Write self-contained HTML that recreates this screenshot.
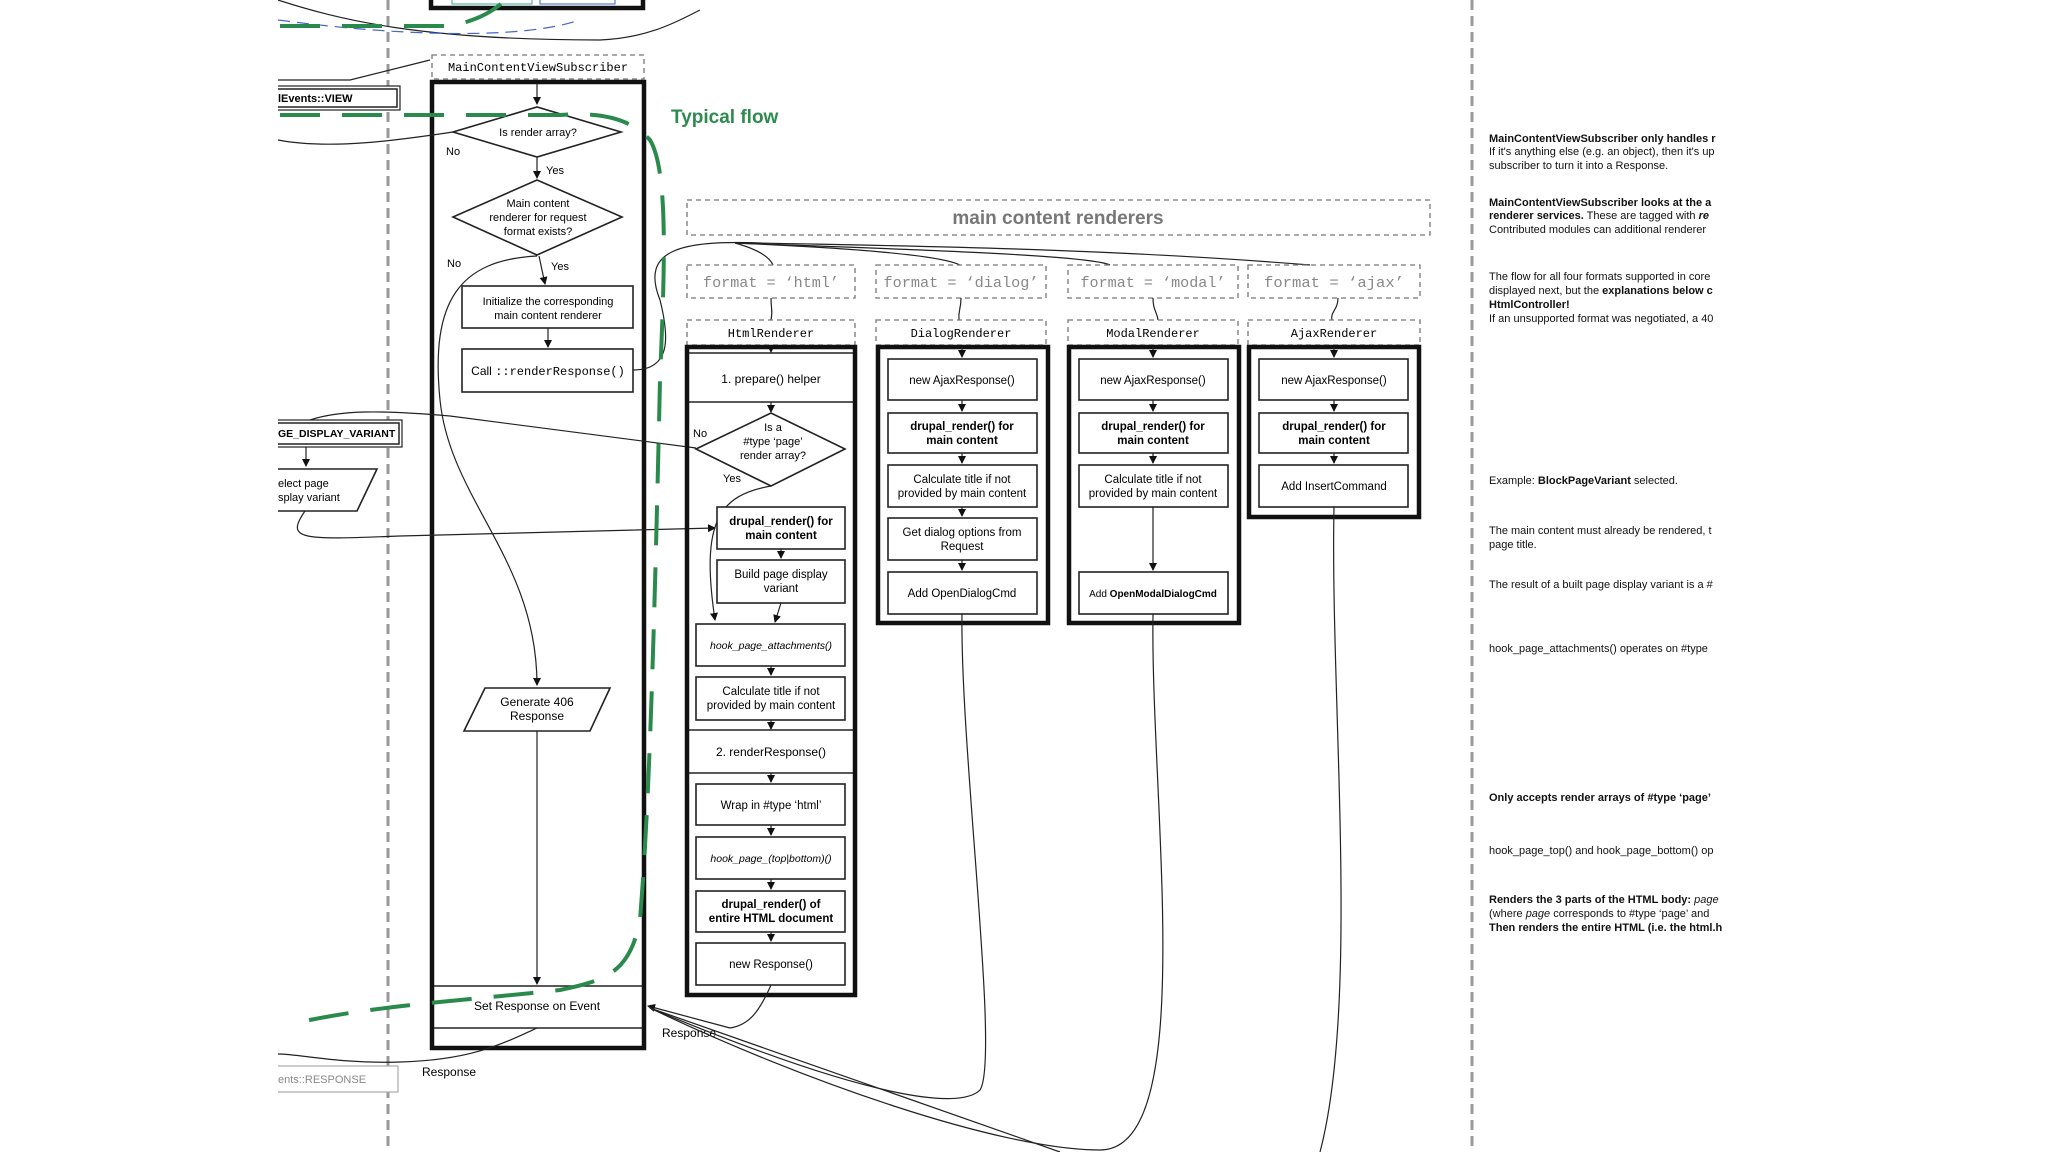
<!DOCTYPE html>
<html><head><meta charset="utf-8"><style>
html,body{margin:0;padding:0;background:#fff;}
svg{display:block;font-family:"Liberation Sans",sans-serif;font-size:12px;}
.m{font-family:"Liberation Mono",monospace;}
.b{fill:#fff;stroke:#222;stroke-width:1.6;}
.t{fill:none;stroke:#111;stroke-width:4.5;}
.d{fill:none;stroke:#777;stroke-width:1.3;stroke-dasharray:5 4;}
.c{fill:none;stroke:#222;stroke-width:1.2;}
</style></head><body>
<svg width="2048" height="1152" viewBox="0 0 2048 1152" xmlns="http://www.w3.org/2000/svg">
<defs><marker id="a" markerWidth="8" markerHeight="8" refX="7" refY="4" orient="auto" markerUnits="userSpaceOnUse"><path d="M0,0 L8,4 L0,8 z" fill="#111"/></marker></defs>

<line x1="388" y1="0" x2="388" y2="1152" stroke="#999" stroke-width="3" stroke-dasharray="10 6"/>
<line x1="1472" y1="0" x2="1472" y2="1152" stroke="#999" stroke-width="3" stroke-dasharray="10 6"/>

<rect x="431" y="-10" width="212" height="18" class="t"/>
<rect x="452" y="-5" width="80" height="9" fill="none" stroke="#3a9" stroke-width="1"/>
<rect x="540" y="-5" width="75" height="9" fill="none" stroke="#36c" stroke-width="1"/>
<path d="M278,0 C340,20 420,40 600,40 C650,38 680,20 700,10" class="c"/>
<path d="M278,20 C400,36 520,40 580,20" fill="none" stroke="#46c" stroke-width="1.2" stroke-dasharray="12 7"/>

<rect x="432" y="55" width="212" height="24" class="d"/>
<text x="538" y="71" class="m" text-anchor="middle" font-size="12">MainContentViewSubscriber</text>
<rect x="432" y="82" width="212" height="966" class="t"/>
<path d="M430,60 L350,80 L278,80" class="c"/>
<line x1="537" y1="84" x2="537" y2="104" class="c" marker-end="url(#a)"/>
<polygon points="453,132 537,107 621,132 537,157" class="b"/>
<text x="538" y="136" text-anchor="middle" font-size="11">Is render array?</text>
<text x="446" y="155" font-size="11">No</text>
<line x1="537" y1="157" x2="537" y2="178" class="c" marker-end="url(#a)"/>
<text x="546" y="174" font-size="11">Yes</text>
<polygon points="453,217 537,180 622,217 537,255" class="b"/>
<text x="538" y="207" text-anchor="middle" font-size="11">Main content</text>
<text x="538" y="221" text-anchor="middle" font-size="11">renderer for request</text>
<text x="538" y="235" text-anchor="middle" font-size="11">format exists?</text>
<text x="447" y="267" font-size="11">No</text>
<text x="551" y="270" font-size="11">Yes</text>
<line x1="539" y1="256" x2="545" y2="284" class="c" marker-end="url(#a)"/>
<rect x="462" y="286" width="171" height="42" class="b"/>
<text x="548" y="305" text-anchor="middle" font-size="11">Initialize the corresponding</text>
<text x="548" y="319" text-anchor="middle" font-size="11">main content renderer</text>
<line x1="548" y1="328" x2="548" y2="347" class="c" marker-end="url(#a)"/>
<rect x="462" y="349" width="171" height="43" class="b"/>
<text x="548" y="375" text-anchor="middle" font-size="12">Call <tspan class="m">::renderResponse()</tspan></text>
<path d="M537,256 C460,260 430,300 440,400 C450,500 537,560 537,685" class="c" marker-end="url(#a)"/>
<polygon points="485,688 610,688 590,731 464,731" class="b"/>
<text x="537" y="706" text-anchor="middle" font-size="12">Generate 406</text>
<text x="537" y="720" text-anchor="middle" font-size="12">Response</text>
<line x1="537" y1="731" x2="537" y2="984" class="c" marker-end="url(#a)"/>
<line x1="434" y1="986" x2="642" y2="986" stroke="#222" stroke-width="1.5"/>
<line x1="434" y1="1028" x2="642" y2="1028" stroke="#222" stroke-width="1.5"/>
<text x="537" y="1010" text-anchor="middle" font-size="12">Set Response on Event</text>
<path d="M537,1028 C500,1045 470,1060 400,1062 C340,1064 300,1054 278,1054" class="c"/>
<text x="422" y="1076" font-size="12">Response</text>
<text x="662" y="1037" font-size="12">Response</text>

<rect x="270" y="86" width="130" height="24" fill="#fff" stroke="#222" stroke-width="1.2"/>
<rect x="273" y="89" width="124" height="18" fill="none" stroke="#222" stroke-width="1.5"/>
<text x="278" y="102" font-size="11" font-weight="bold">lEvents::VIEW</text>
<path d="M278,140 C330,150 400,140 453,132" class="c"/>
<rect x="270" y="420" width="132" height="27" fill="#fff" stroke="#222" stroke-width="1.2"/>
<rect x="273" y="423" width="126" height="21" fill="none" stroke="#222" stroke-width="1.5"/>
<text x="278" y="437" font-size="10.5" font-weight="bold">GE_DISPLAY_VARIANT</text>
<line x1="306" y1="447" x2="306" y2="466" class="c" marker-end="url(#a)"/>
<polygon points="270,469 377,469 357,511 270,511" class="b"/>
<text x="278" y="487" font-size="11">elect page</text>
<text x="278" y="501" font-size="11">splay variant</text>
<path d="M310,420 C340,410 380,410 450,416 L696,448" class="c"/>
<path d="M305,511 C285,540 300,540 400,536 L715,528" class="c" marker-end="url(#a)"/>
<rect x="270" y="1066" width="128" height="26" fill="#fff" stroke="#aaa" stroke-width="1.2"/>
<text x="278" y="1083" font-size="11" fill="#888">ents::RESPONSE</text>

<text x="671" y="123" font-size="19" font-weight="bold" fill="#2e8b4f">Typical flow</text>

<rect x="687" y="200" width="743" height="35" class="d"/>
<text x="1058" y="224" text-anchor="middle" font-size="19" fill="#777" font-weight="bold">main content renderers</text>
<path d="M633,370 C670,370 670,340 660,300 C640,250 680,240 760,243 C900,246 1100,248 1310,265" class="c"/>
<path d="M735,243 C760,250 770,258 773,265" class="c"/>
<path d="M735,243 C850,248 940,255 960,265" class="c"/>
<path d="M735,243 C900,249 1090,255 1110,265" class="c"/>

<rect x="687" y="265" width="168" height="33" class="d"/><text x="771" y="287" text-anchor="middle" class="m" font-size="15" fill="#888" textLength="136" lengthAdjust="spacingAndGlyphs">format = ‘html’</text>
<rect x="876" y="265" width="170" height="33" class="d"/><text x="961" y="287" text-anchor="middle" class="m" font-size="15" fill="#888" textLength="155" lengthAdjust="spacingAndGlyphs">format = ‘dialog’</text>
<rect x="1068" y="265" width="170" height="33" class="d"/><text x="1153" y="287" text-anchor="middle" class="m" font-size="15" fill="#888" textLength="145" lengthAdjust="spacingAndGlyphs">format = ‘modal’</text>
<rect x="1248" y="265" width="172" height="33" class="d"/><text x="1334" y="287" text-anchor="middle" class="m" font-size="15" fill="#888" textLength="140" lengthAdjust="spacingAndGlyphs">format = ‘ajax’</text>
<path d="M771,298 C771,310 773,310 771,320" class="c"/>
<path d="M961,298 C961,310 958,310 959,320" class="c"/>
<path d="M1153,298 C1153,310 1157,312 1158,320" class="c"/>
<path d="M1338,298 C1338,310 1330,312 1332,320" class="c"/>

<rect x="687" y="320" width="168" height="25" class="d"/><text x="771" y="337" text-anchor="middle" class="m" font-size="12">HtmlRenderer</text>
<rect x="876" y="320" width="170" height="25" class="d"/><text x="961" y="337" text-anchor="middle" class="m" font-size="12">DialogRenderer</text>
<rect x="1068" y="320" width="170" height="25" class="d"/><text x="1153" y="337" text-anchor="middle" class="m" font-size="12">ModalRenderer</text>
<rect x="1248" y="320" width="172" height="25" class="d"/><text x="1334" y="337" text-anchor="middle" class="m" font-size="12">AjaxRenderer</text>

<rect x="687" y="347" width="168" height="648" class="t"/>
<line x1="689" y1="353" x2="853" y2="353" stroke="#222" stroke-width="1.5"/>
<line x1="689" y1="402" x2="853" y2="402" stroke="#222" stroke-width="1.5"/>
<text x="771" y="383" text-anchor="middle" font-size="12">1. prepare() helper</text>
<line x1="771" y1="402" x2="771" y2="412" class="c" marker-end="url(#a)"/>
<polygon points="696,449 771,413 845,449 771,486" class="b"/>
<text x="773" y="431" text-anchor="middle" font-size="11">Is a</text>
<text x="773" y="445" text-anchor="middle" font-size="11">#type ‘page’</text>
<text x="773" y="459" text-anchor="middle" font-size="11">render array?</text>
<text x="693" y="437" font-size="11">No</text>
<text x="723" y="482" font-size="11">Yes</text>
<path d="M771,486 C720,495 700,520 715,620" class="c" marker-end="url(#a)"/>
<rect x="717" y="507" width="128" height="42" class="b"/>
<text x="781" y="525" text-anchor="middle" font-size="11.5" font-weight="bold">drupal_render() for</text>
<text x="781" y="539" text-anchor="middle" font-size="11.5" font-weight="bold">main content</text>
<line x1="781" y1="549" x2="781" y2="558" class="c" marker-end="url(#a)"/>
<rect x="717" y="560" width="128" height="43" class="b"/>
<text x="781" y="578" text-anchor="middle" font-size="11.5">Build page display</text>
<text x="781" y="592" text-anchor="middle" font-size="11.5">variant</text>
<line x1="781" y1="603" x2="775" y2="622" class="c" marker-end="url(#a)"/>
<rect x="696" y="624" width="149" height="42" class="b"/>
<text x="771" y="649" text-anchor="middle" font-size="10.5" font-style="italic">hook_page_attachments()</text>
<line x1="771" y1="666" x2="771" y2="675" class="c" marker-end="url(#a)"/>
<rect x="696" y="677" width="149" height="43" class="b"/>
<text x="771" y="695" text-anchor="middle" font-size="11.5">Calculate title if not</text>
<text x="771" y="709" text-anchor="middle" font-size="11.5">provided by main content</text>
<line x1="771" y1="720" x2="771" y2="729" class="c" marker-end="url(#a)"/>
<line x1="689" y1="730" x2="853" y2="730" stroke="#222" stroke-width="1.5"/>
<line x1="689" y1="773" x2="853" y2="773" stroke="#222" stroke-width="1.5"/>
<text x="771" y="756" text-anchor="middle" font-size="12">2. renderResponse()</text>
<line x1="771" y1="773" x2="771" y2="782" class="c" marker-end="url(#a)"/>
<rect x="696" y="784" width="149" height="41" class="b"/>
<text x="771" y="809" text-anchor="middle" font-size="11.5">Wrap in #type ‘html’</text>
<line x1="771" y1="825" x2="771" y2="835" class="c" marker-end="url(#a)"/>
<rect x="696" y="837" width="149" height="42" class="b"/>
<text x="771" y="862" text-anchor="middle" font-size="10.5" font-style="italic">hook_page_(top|bottom)()</text>
<line x1="771" y1="879" x2="771" y2="889" class="c" marker-end="url(#a)"/>
<rect x="696" y="891" width="149" height="41" class="b"/>
<text x="771" y="908" text-anchor="middle" font-size="11.5" font-weight="bold">drupal_render() of</text>
<text x="771" y="922" text-anchor="middle" font-size="11.5" font-weight="bold">entire HTML document</text>
<line x1="771" y1="932" x2="771" y2="941" class="c" marker-end="url(#a)"/>
<rect x="696" y="943" width="149" height="42" class="b"/>
<text x="771" y="968" text-anchor="middle" font-size="11.5">new Response()</text>
<path d="M771,985 C760,1010 750,1025 730,1028" class="c"/>
<path d="M730,1028 L648,1006" class="c" marker-end="url(#a)"/>

<rect x="878" y="347" width="170" height="276" class="t"/>
<g font-size="11.5">
<rect x="888" y="359" width="149" height="41" class="b"/><text x="962" y="384" text-anchor="middle">new AjaxResponse()</text>
<rect x="888" y="413" width="149" height="40" class="b"/><text x="962" y="430" text-anchor="middle" font-weight="bold">drupal_render() for</text><text x="962" y="444" text-anchor="middle" font-weight="bold">main content</text>
<rect x="888" y="465" width="149" height="42" class="b"/><text x="962" y="483" text-anchor="middle">Calculate title if not</text><text x="962" y="497" text-anchor="middle">provided by main content</text>
<rect x="888" y="518" width="149" height="42" class="b"/><text x="962" y="536" text-anchor="middle">Get dialog options from</text><text x="962" y="550" text-anchor="middle">Request</text>
<rect x="888" y="572" width="149" height="42" class="b"/><text x="962" y="597" text-anchor="middle">Add OpenDialogCmd</text>
</g>
<rect x="1069" y="347" width="170" height="276" class="t"/>
<rect x="1079" y="359" width="149" height="41" class="b"/><text x="1153" y="384" text-anchor="middle" font-size="11.5">new AjaxResponse()</text>
<rect x="1079" y="413" width="149" height="40" class="b"/><text x="1153" y="430" text-anchor="middle" font-size="11.5" font-weight="bold">drupal_render() for</text><text x="1153" y="444" text-anchor="middle" font-size="11.5" font-weight="bold">main content</text>
<rect x="1079" y="465" width="149" height="42" class="b"/><text x="1153" y="483" text-anchor="middle" font-size="11.5">Calculate title if not</text><text x="1153" y="497" text-anchor="middle" font-size="11.5">provided by main content</text>
<line x1="1153" y1="507" x2="1153" y2="570" class="c" marker-end="url(#a)"/>
<rect x="1079" y="572" width="149" height="42" class="b"/><text x="1153" y="597" text-anchor="middle" font-size="10">Add <tspan font-weight="bold">OpenModalDialogCmd</tspan></text>
<rect x="1249" y="347" width="170" height="170" class="t"/>
<rect x="1259" y="359" width="149" height="41" class="b"/><text x="1334" y="384" text-anchor="middle" font-size="11.5">new AjaxResponse()</text>
<rect x="1259" y="413" width="149" height="40" class="b"/><text x="1334" y="430" text-anchor="middle" font-size="11.5" font-weight="bold">drupal_render() for</text><text x="1334" y="444" text-anchor="middle" font-size="11.5" font-weight="bold">main content</text>
<rect x="1259" y="465" width="149" height="42" class="b"/><text x="1334" y="490" text-anchor="middle" font-size="11.5">Add InsertCommand</text>

<g class="c">
<line x1="962" y1="347" x2="962" y2="357" marker-end="url(#a)"/><line x1="962" y1="400" x2="962" y2="411" marker-end="url(#a)"/><line x1="962" y1="453" x2="962" y2="463" marker-end="url(#a)"/><line x1="962" y1="507" x2="962" y2="516" marker-end="url(#a)"/><line x1="962" y1="560" x2="962" y2="570" marker-end="url(#a)"/>
<line x1="1153" y1="347" x2="1153" y2="357" marker-end="url(#a)"/><line x1="1153" y1="400" x2="1153" y2="411" marker-end="url(#a)"/><line x1="1153" y1="453" x2="1153" y2="463" marker-end="url(#a)"/>
<line x1="1334" y1="347" x2="1334" y2="357" marker-end="url(#a)"/><line x1="1334" y1="400" x2="1334" y2="411" marker-end="url(#a)"/><line x1="1334" y1="453" x2="1334" y2="463" marker-end="url(#a)"/>
<line x1="771" y1="347" x2="771" y2="352" marker-end="url(#a)"/>
</g>
<path d="M962,614 C960,750 1000,1060 980,1090 C960,1110 870,1100 650,1008" class="c"/>
<path d="M1153,614 C1150,800 1200,1150 1100,1150 C1000,1150 800,1080 650,1008" class="c"/>
<path d="M1334,507 C1330,700 1360,1000 1320,1152" class="c"/>
<path d="M650,1008 L1060,1152" class="c"/>

<g fill="none" stroke="#2a8a4c" stroke-width="4" stroke-dasharray="40 22">
<path d="M280,26 L450,26 C480,20 495,10 505,0"/>
<path d="M280,115 L560,115 C600,112 630,118 650,140 C668,170 665,260 660,380 C655,600 650,800 640,920 C630,970 610,980 560,990 C470,1000 380,1005 300,1022"/>
</g>

<g font-size="11" fill="#111">
<text x="1489" y="142" font-weight="bold">MainContentViewSubscriber only handles r</text>
<text x="1489" y="155">If it's anything else (e.g. an object), then it's up</text>
<text x="1489" y="169">subscriber to turn it into a Response.</text>
<text x="1489" y="206" font-weight="bold">MainContentViewSubscriber looks at the a</text>
<text x="1489" y="219"><tspan font-weight="bold">renderer services.</tspan> These are tagged with <tspan font-weight="bold" font-style="italic">re</tspan></text>
<text x="1489" y="233">Contributed modules  can additional renderer</text>
<text x="1489" y="280">The flow for all four formats supported in core</text>
<text x="1489" y="294">displayed next, but the <tspan font-weight="bold">explanations below c</tspan></text>
<text x="1489" y="308" font-weight="bold">HtmlController!</text>
<text x="1489" y="322">If an unsupported format was negotiated, a 40</text>
<text x="1489" y="484">Example: <tspan font-weight="bold">BlockPageVariant</tspan> selected.</text>
<text x="1489" y="534">The main content must already be rendered, t</text>
<text x="1489" y="548">page title.</text>
<text x="1489" y="588">The result of a built page display variant is a #</text>
<text x="1489" y="652">hook_page_attachments() operates on #type</text>
<text x="1489" y="801" font-weight="bold">Only accepts render arrays of #type ‘page’</text>
<text x="1489" y="854">hook_page_top() and hook_page_bottom() op</text>
<text x="1489" y="903"><tspan font-weight="bold">Renders the 3 parts of the HTML body:</tspan> <tspan font-style="italic">page</tspan></text>
<text x="1489" y="917">(where <tspan font-style="italic">page</tspan> corresponds to #type ‘page’ and</text>
<text x="1489" y="931" font-weight="bold">Then renders the entire HTML (i.e. the html.h</text>
</g>
<rect x="0" y="0" width="278" height="1152" fill="#fff"/>
<rect x="1728" y="0" width="320" height="1152" fill="#fff"/>
</svg>
</body></html>
